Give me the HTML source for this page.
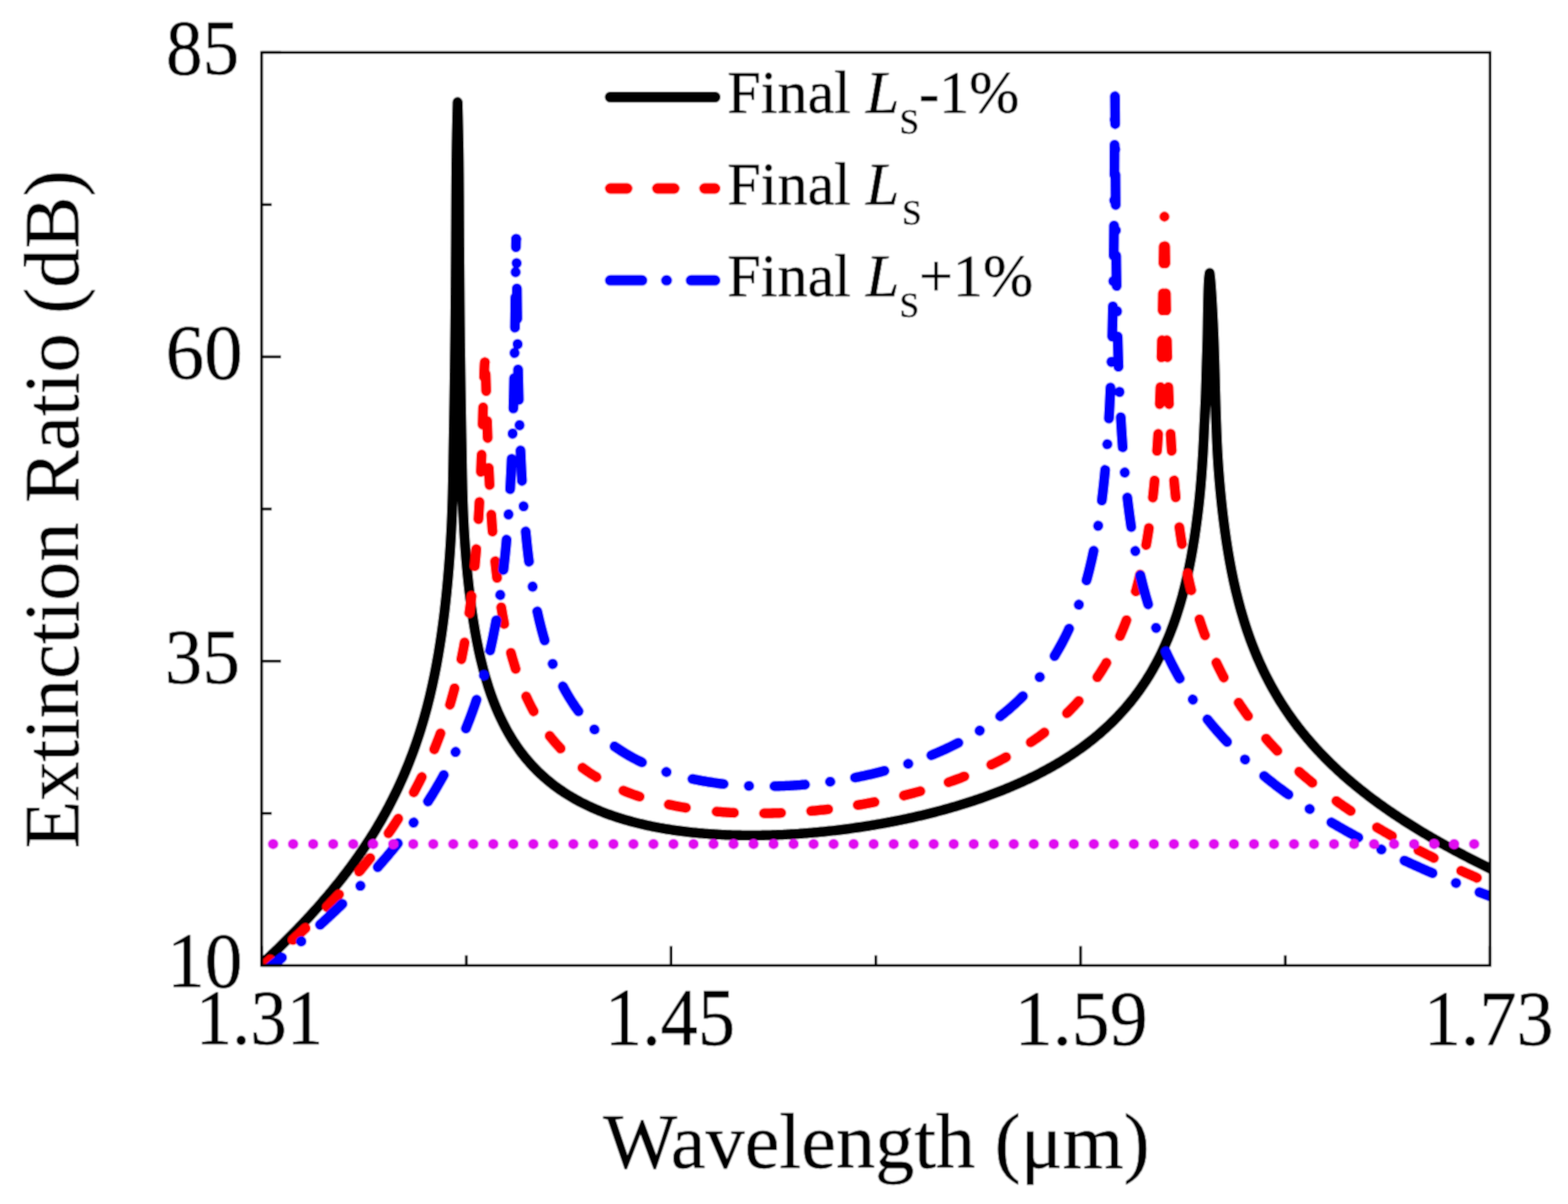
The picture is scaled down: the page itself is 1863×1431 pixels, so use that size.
<!DOCTYPE html>
<html><head><meta charset="utf-8"><style>
html,body{margin:0;padding:0;background:#fff;}
svg{display:block;}
text{font-family:"Liberation Serif","Times New Roman",serif;fill:#000;stroke:#000;stroke-width:0.5px;}
</style></head><body>
<svg width="1863" height="1431" viewBox="0 0 1863 1431">
<defs><filter id="soft" x="0" y="0" width="1863" height="1431" filterUnits="userSpaceOnUse"><feConvolveMatrix order="3" kernelMatrix="1 2 1 2 4 2 1 2 1" divisor="16" edgeMode="duplicate" preserveAlpha="true"/></filter><clipPath id="pa"><rect x="310.80" y="62.40" width="1459.60" height="1085.10"/></clipPath></defs>
<g filter="url(#soft)">
<rect x="0" y="0" width="1863" height="1431" fill="#fff"/>
<g clip-path="url(#pa)" fill="none" stroke-linecap="round" stroke-linejoin="round" stroke-width="12.3">
<path stroke="#000" d="M295.80,1159.76 L297.80,1157.96 L299.80,1156.15 L301.80,1154.33 L303.80,1152.51 L305.80,1150.67 L307.80,1148.84 L309.80,1146.99 L311.80,1145.13 L313.80,1143.27 L315.80,1141.40 L317.80,1139.52 L319.80,1137.63 L321.80,1135.73 L323.80,1133.82 L325.80,1131.90 L327.80,1129.98 L329.80,1128.04 L331.80,1126.09 L333.80,1124.14 L335.80,1122.17 L337.80,1120.19 L339.80,1118.20 L341.80,1116.20 L343.80,1114.19 L345.80,1112.17 L347.80,1110.13 L349.80,1108.09 L351.80,1106.03 L353.80,1103.96 L355.80,1101.87 L357.80,1099.77 L359.80,1097.66 L361.80,1095.54 L363.80,1093.40 L365.80,1091.24 L367.80,1089.07 L369.80,1086.89 L371.80,1084.69 L373.80,1082.47 L375.80,1080.24 L377.80,1077.99 L379.80,1075.72 L381.80,1073.44 L383.80,1071.13 L385.80,1068.81 L387.80,1066.47 L389.80,1064.11 L391.80,1061.73 L393.80,1059.32 L395.80,1056.90 L397.80,1054.45 L399.80,1051.98 L401.80,1049.49 L403.80,1046.98 L405.80,1044.43 L407.80,1041.87 L409.80,1039.27 L411.80,1036.65 L413.80,1034.00 L415.80,1031.33 L417.80,1028.62 L419.80,1025.88 L421.80,1023.11 L423.80,1020.30 L425.80,1017.47 L427.80,1014.59 L429.80,1011.68 L431.80,1008.73 L433.80,1005.75 L435.80,1002.72 L437.80,999.65 L439.80,996.53 L441.80,993.37 L443.80,990.16 L445.80,986.91 L447.80,983.60 L449.80,980.23 L451.80,976.81 L453.80,973.33 L455.80,969.79 L457.80,966.19 L459.80,962.52 L461.80,958.77 L463.80,954.96 L465.80,951.06 L467.80,947.08 L469.80,943.02 L471.80,938.86 L473.80,934.61 L475.80,930.26 L477.80,925.79 L479.80,921.22 L481.80,916.52 L483.80,911.68 L485.80,906.71 L487.80,901.59 L489.80,896.31 L491.80,890.86 L493.80,885.22 L495.80,879.38 L497.80,873.32 L499.80,867.02 L501.80,860.47 L503.70,853.97 L507.26,841.02 L510.50,828.18 L513.46,815.44 L516.15,802.80 L518.60,790.24 L520.83,777.76 L522.87,765.34 L524.72,752.99 L526.41,740.70 L527.95,728.46 L529.35,716.26 L530.63,704.11 L531.02,700.00 L531.37,696.41 L531.71,692.83 L532.03,689.24 L532.34,685.65 L532.66,682.07 L532.96,678.48 L533.25,674.90 L533.53,671.31 L533.81,667.72 L534.07,664.14 L534.33,660.55 L534.59,656.96 L534.83,653.38 L535.06,649.79 L535.29,646.21 L535.51,642.62 L535.71,639.03 L535.92,635.45 L536.11,631.86 L536.29,628.27 L536.47,624.69 L536.64,621.10 L536.79,617.51 L536.94,613.93 L537.08,610.34 L537.21,606.76 L537.33,603.17 L537.45,599.58 L537.56,596.00 L537.66,592.41 L537.76,588.82 L537.85,585.24 L537.93,581.65 L538.01,578.06 L538.09,574.48 L538.16,570.89 L538.23,567.31 L538.29,563.72 L538.36,560.13 L538.42,556.55 L538.48,552.96 L538.54,549.37 L538.59,545.79 L538.65,542.20 L538.71,538.62 L538.77,535.03 L538.83,531.44 L538.89,527.86 L538.95,524.27 L539.02,520.68 L539.08,517.10 L539.15,513.51 L539.21,509.92 L539.27,506.34 L539.33,502.75 L539.39,499.17 L539.45,495.58 L539.51,491.99 L539.57,488.41 L539.62,484.82 L539.68,481.23 L539.74,477.65 L539.79,474.06 L539.85,470.47 L539.90,466.89 L539.95,463.30 L540.01,459.72 L540.06,456.13 L540.11,452.54 L540.16,448.96 L540.21,445.37 L540.26,441.78 L540.31,438.20 L540.36,434.61 L540.41,431.03 L540.46,427.44 L540.51,423.85 L540.55,420.27 L540.60,416.68 L540.64,413.09 L540.68,409.51 L540.73,405.92 L540.77,402.33 L540.81,398.75 L540.85,395.16 L540.88,391.58 L540.92,387.99 L540.96,384.40 L540.99,380.82 L541.03,377.23 L541.06,373.64 L541.09,370.06 L541.12,366.47 L541.15,362.88 L541.18,359.30 L541.21,355.71 L541.24,352.13 L541.26,348.54 L541.29,344.95 L541.32,341.37 L541.34,337.78 L541.37,334.19 L541.39,330.61 L541.42,327.02 L541.44,323.44 L541.47,319.85 L541.49,316.26 L541.52,312.68 L541.54,309.09 L541.56,305.50 L541.59,301.92 L541.61,298.33 L541.63,294.74 L541.66,291.16 L541.68,287.57 L541.70,283.99 L541.71,280.40 L541.73,276.81 L541.75,273.23 L541.77,269.64 L541.79,266.05 L541.80,262.47 L541.82,258.88 L541.84,255.29 L541.85,251.71 L541.87,248.12 L541.89,244.54 L541.91,240.95 L541.92,237.36 L541.94,233.78 L541.96,230.19 L541.99,226.60 L542.01,223.02 L542.03,219.43 L542.06,215.85 L542.08,212.26 L542.11,208.67 L542.14,205.09 L542.17,201.50 L542.19,199.45 L542.21,197.40 L542.23,195.35 L542.25,193.29 L542.27,191.24 L542.30,189.19 L542.32,187.14 L542.35,185.09 L542.38,183.04 L542.41,180.99 L542.44,178.94 L542.47,176.88 L542.51,174.83 L542.54,172.78 L542.58,170.73 L542.62,168.68 L542.66,166.63 L542.70,164.58 L542.74,162.53 L542.78,160.47 L542.82,158.42 L542.87,156.37 L542.91,154.32 L542.96,152.27 L543.00,150.22 L543.05,148.17 L543.10,146.12 L543.14,144.06 L543.19,142.01 L543.24,139.96 L543.29,137.91 L543.34,135.86 L543.39,133.81 L543.44,131.76 L543.49,129.71 L543.54,127.65 L543.60,125.60 L543.65,123.55 L543.70,121.50 L543.75,123.55 L543.80,125.60 L543.86,127.65 L543.91,129.71 L543.96,131.76 L544.01,133.81 L544.06,135.86 L544.11,137.91 L544.16,139.96 L544.21,142.01 L544.26,144.06 L544.30,146.12 L544.35,148.17 L544.40,150.22 L544.44,152.27 L544.49,154.32 L544.53,156.37 L544.58,158.42 L544.62,160.47 L544.66,162.53 L544.70,164.58 L544.74,166.63 L544.78,168.68 L544.82,170.73 L544.86,172.78 L544.89,174.83 L544.93,176.88 L544.96,178.94 L544.99,180.99 L545.02,183.04 L545.05,185.09 L545.08,187.14 L545.10,189.19 L545.13,191.24 L545.15,193.29 L545.17,195.35 L545.19,197.40 L545.21,199.45 L545.23,201.50 L545.26,205.09 L545.29,208.67 L545.32,212.26 L545.34,215.85 L545.37,219.43 L545.39,223.02 L545.41,226.60 L545.44,230.19 L545.46,233.78 L545.48,237.36 L545.49,240.95 L545.51,244.54 L545.53,248.12 L545.55,251.71 L545.56,255.29 L545.58,258.88 L545.60,262.47 L545.61,266.05 L545.63,269.64 L545.65,273.23 L545.67,276.81 L545.69,280.40 L545.70,283.99 L545.72,287.57 L545.74,291.16 L545.77,294.74 L545.79,298.33 L545.81,301.92 L545.84,305.50 L545.86,309.09 L545.88,312.68 L545.91,316.26 L545.93,319.85 L545.96,323.44 L545.98,327.02 L546.01,330.61 L546.03,334.19 L546.06,337.78 L546.08,341.37 L546.11,344.95 L546.14,348.54 L546.16,352.13 L546.19,355.71 L546.22,359.30 L546.25,362.88 L546.28,366.47 L546.31,370.06 L546.34,373.64 L546.37,377.23 L546.41,380.82 L546.44,384.40 L546.48,387.99 L546.52,391.58 L546.55,395.16 L546.59,398.75 L546.63,402.33 L546.67,405.92 L546.72,409.51 L546.76,413.09 L546.80,416.68 L546.85,420.27 L546.89,423.85 L546.94,427.44 L546.99,431.03 L547.04,434.61 L547.09,438.20 L547.14,441.78 L547.19,445.37 L547.24,448.96 L547.29,452.54 L547.34,456.13 L547.39,459.72 L547.45,463.30 L547.50,466.89 L547.55,470.47 L547.61,474.06 L547.66,477.65 L547.72,481.23 L547.78,484.82 L547.83,488.41 L547.89,491.99 L547.95,495.58 L548.01,499.17 L548.07,502.75 L548.13,506.34 L548.19,509.92 L548.25,513.51 L548.32,517.10 L548.38,520.68 L548.45,524.27 L548.51,527.86 L548.57,531.44 L548.63,535.03 L548.69,538.62 L548.75,542.20 L548.81,545.79 L548.87,549.37 L548.93,552.96 L548.99,556.55 L549.06,560.13 L549.12,563.72 L549.19,567.31 L549.27,570.89 L549.34,574.48 L549.42,578.06 L549.51,581.65 L549.60,585.24 L549.70,588.82 L549.80,592.41 L549.91,596.00 L550.03,599.58 L550.16,603.17 L550.29,606.76 L550.44,610.34 L550.59,613.93 L550.75,617.51 L550.93,621.10 L551.11,624.69 L551.30,628.27 L551.51,631.86 L551.72,635.45 L551.94,639.03 L552.18,642.62 L552.43,646.21 L552.68,649.79 L552.95,653.38 L553.23,656.96 L553.51,660.55 L553.81,664.14 L554.11,667.72 L554.42,671.31 L554.75,674.90 L555.09,678.48 L555.43,682.07 L555.79,685.65 L556.16,689.24 L556.54,692.83 L556.92,696.41 L557.33,700.00 L558.05,706.38 L559.45,717.61 L560.99,728.79 L562.68,739.92 L564.53,750.99 L566.57,762.00 L568.80,772.95 L571.25,783.82 L573.94,794.61 L576.90,805.31 L580.14,815.91 L583.70,826.40 L583.80,826.68 L585.80,832.12 L587.80,837.27 L589.80,842.16 L591.80,846.82 L593.80,851.25 L595.80,855.49 L597.80,859.55 L599.80,863.43 L601.80,867.15 L603.80,870.72 L605.80,874.16 L607.80,877.46 L609.80,880.65 L611.80,883.71 L613.80,886.67 L615.80,889.53 L617.80,892.29 L619.80,894.96 L621.80,897.54 L623.80,900.05 L625.80,902.47 L627.80,904.82 L629.80,907.09 L631.80,909.30 L633.80,911.45 L635.80,913.53 L637.80,915.56 L639.80,917.52 L641.80,919.44 L643.80,921.30 L645.80,923.11 L647.80,924.87 L649.80,926.59 L651.80,928.26 L653.80,929.89 L655.80,931.48 L657.80,933.03 L659.80,934.54 L661.80,936.01 L663.80,937.44 L665.80,938.85 L667.80,940.21 L669.80,941.55 L671.80,942.85 L673.80,944.13 L675.80,945.37 L677.80,946.58 L679.80,947.77 L681.80,948.93 L683.80,950.06 L685.80,951.17 L687.80,952.25 L689.80,953.31 L691.80,954.35 L693.80,955.36 L695.80,956.35 L697.80,957.32 L699.80,958.26 L701.80,959.19 L703.80,960.10 L705.80,960.98 L707.80,961.85 L709.80,962.70 L711.80,963.53 L713.80,964.34 L715.80,965.13 L717.80,965.91 L719.80,966.67 L721.80,967.42 L723.80,968.15 L725.80,968.86 L727.80,969.56 L729.80,970.24 L731.80,970.91 L733.80,971.56 L735.80,972.20 L737.80,972.82 L739.80,973.44 L741.80,974.03 L743.80,974.62 L745.80,975.19 L747.80,975.75 L749.80,976.30 L751.80,976.84 L753.80,977.36 L755.80,977.87 L757.80,978.37 L759.80,978.86 L761.80,979.34 L763.80,979.81 L765.80,980.27 L767.80,980.71 L769.80,981.15 L771.80,981.58 L773.80,981.99 L775.80,982.40 L777.80,982.80 L779.80,983.18 L781.80,983.56 L783.80,983.93 L785.80,984.29 L787.80,984.64 L789.80,984.98 L791.80,985.31 L793.80,985.64 L795.80,985.95 L797.80,986.26 L799.80,986.56 L801.80,986.85 L803.80,987.13 L805.80,987.41 L807.80,987.67 L809.80,987.93 L811.80,988.18 L813.80,988.43 L815.80,988.66 L817.80,988.89 L819.80,989.12 L821.80,989.33 L823.80,989.54 L825.80,989.74 L827.80,989.93 L829.80,990.12 L831.80,990.30 L833.80,990.47 L835.80,990.64 L837.80,990.80 L839.80,990.96 L841.80,991.10 L843.80,991.24 L845.80,991.38 L847.80,991.51 L849.80,991.63 L851.80,991.75 L853.80,991.86 L855.80,991.96 L857.80,992.06 L859.80,992.15 L861.80,992.24 L863.80,992.32 L865.80,992.40 L867.80,992.46 L869.80,992.53 L871.80,992.59 L873.80,992.64 L875.80,992.69 L877.80,992.73 L879.80,992.77 L881.80,992.80 L883.80,992.82 L885.80,992.84 L887.80,992.86 L889.80,992.87 L891.80,992.87 L893.80,992.87 L895.80,992.87 L897.80,992.86 L899.80,992.84 L901.80,992.82 L903.80,992.79 L905.80,992.76 L907.80,992.73 L909.80,992.69 L911.80,992.64 L913.80,992.59 L915.80,992.54 L917.80,992.48 L919.80,992.41 L921.80,992.34 L923.80,992.27 L925.80,992.19 L927.80,992.11 L929.80,992.02 L931.80,991.93 L933.80,991.83 L935.80,991.73 L937.80,991.62 L939.80,991.51 L941.80,991.39 L943.80,991.27 L945.80,991.15 L947.80,991.02 L949.80,990.88 L951.80,990.74 L953.80,990.60 L955.80,990.45 L957.80,990.30 L959.80,990.14 L961.80,989.98 L963.80,989.82 L965.80,989.65 L967.80,989.47 L969.80,989.30 L971.80,989.11 L973.80,988.92 L975.80,988.73 L977.80,988.54 L979.80,988.33 L981.80,988.13 L983.80,987.92 L985.80,987.71 L987.80,987.49 L989.80,987.26 L991.80,987.04 L993.80,986.80 L995.80,986.57 L997.80,986.33 L999.80,986.08 L1001.80,985.83 L1003.80,985.58 L1005.80,985.32 L1007.80,985.06 L1009.80,984.79 L1011.80,984.52 L1013.80,984.24 L1015.80,983.96 L1017.80,983.68 L1019.80,983.39 L1021.80,983.10 L1023.80,982.80 L1025.80,982.49 L1027.80,982.19 L1029.80,981.87 L1031.80,981.56 L1033.80,981.24 L1035.80,980.91 L1037.80,980.58 L1039.80,980.25 L1041.80,979.91 L1043.80,979.56 L1045.80,979.21 L1047.80,978.86 L1049.80,978.50 L1051.80,978.14 L1053.80,977.77 L1055.80,977.40 L1057.80,977.02 L1059.80,976.64 L1061.80,976.25 L1063.80,975.86 L1065.80,975.47 L1067.80,975.06 L1069.80,974.66 L1071.80,974.25 L1073.80,973.83 L1075.80,973.41 L1077.80,972.98 L1079.80,972.55 L1081.80,972.12 L1083.80,971.68 L1085.80,971.23 L1087.80,970.78 L1089.80,970.32 L1091.80,969.86 L1093.80,969.39 L1095.80,968.92 L1097.80,968.44 L1099.80,967.96 L1101.80,967.47 L1103.80,966.97 L1105.80,966.47 L1107.80,965.97 L1109.80,965.46 L1111.80,964.94 L1113.80,964.42 L1115.80,963.89 L1117.80,963.36 L1119.80,962.82 L1121.80,962.27 L1123.80,961.72 L1125.80,961.16 L1127.80,960.60 L1129.80,960.03 L1131.80,959.45 L1133.80,958.87 L1135.80,958.28 L1137.80,957.68 L1139.80,957.08 L1141.80,956.47 L1143.80,955.86 L1145.80,955.24 L1147.80,954.61 L1149.80,953.98 L1151.80,953.33 L1153.80,952.68 L1155.80,952.03 L1157.80,951.37 L1159.80,950.70 L1161.80,950.02 L1163.80,949.34 L1165.80,948.64 L1167.80,947.94 L1169.80,947.24 L1171.80,946.52 L1173.80,945.80 L1175.80,945.07 L1177.80,944.33 L1179.80,943.58 L1181.80,942.83 L1183.80,942.07 L1185.80,941.30 L1187.80,940.52 L1189.80,939.73 L1191.80,938.93 L1193.80,938.12 L1195.80,937.31 L1197.80,936.48 L1199.80,935.65 L1201.80,934.80 L1203.80,933.95 L1205.80,933.09 L1207.80,932.22 L1209.80,931.33 L1211.80,930.44 L1213.80,929.54 L1215.80,928.62 L1217.80,927.70 L1219.80,926.76 L1221.80,925.82 L1223.80,924.86 L1225.80,923.89 L1227.80,922.91 L1229.80,921.91 L1231.80,920.91 L1233.80,919.89 L1235.80,918.86 L1237.80,917.82 L1239.80,916.76 L1241.80,915.69 L1243.80,914.61 L1245.80,913.51 L1247.80,912.40 L1249.80,911.28 L1251.80,910.14 L1253.80,908.98 L1255.80,907.82 L1257.80,906.63 L1259.80,905.43 L1261.80,904.21 L1263.80,902.98 L1265.80,901.73 L1267.80,900.46 L1269.80,899.17 L1271.80,897.87 L1273.80,896.55 L1275.80,895.20 L1277.80,893.84 L1279.80,892.46 L1281.80,891.06 L1283.80,889.64 L1285.80,888.19 L1287.80,886.73 L1289.80,885.24 L1291.80,883.73 L1293.80,882.19 L1295.80,880.63 L1297.80,879.05 L1299.80,877.44 L1301.80,875.80 L1303.80,874.13 L1305.80,872.44 L1307.80,870.72 L1309.80,868.97 L1311.80,867.18 L1313.80,865.37 L1315.80,863.52 L1317.80,861.64 L1319.80,859.72 L1321.80,857.77 L1323.80,855.78 L1325.80,853.75 L1327.80,851.68 L1329.80,849.57 L1331.80,847.42 L1333.80,845.22 L1335.80,842.98 L1337.80,840.68 L1339.80,838.34 L1341.80,835.95 L1343.80,833.50 L1345.80,830.99 L1347.80,828.42 L1349.80,825.80 L1351.80,823.10 L1353.80,820.35 L1355.80,817.51 L1357.80,814.61 L1359.80,811.63 L1361.80,808.56 L1363.80,805.41 L1365.80,802.17 L1367.80,798.83 L1369.80,795.39 L1371.80,791.84 L1373.80,788.18 L1375.80,784.39 L1377.80,780.48 L1379.80,776.43 L1381.80,772.23 L1383.80,767.87 L1385.80,763.34 L1387.80,758.63 L1389.80,753.72 L1391.80,748.59 L1393.80,743.23 L1395.80,737.62 L1397.80,731.72 L1398.10,730.81 L1401.66,719.45 L1404.90,708.06 L1407.86,696.64 L1410.55,685.21 L1413.00,673.76 L1415.23,662.30 L1417.27,650.84 L1419.12,639.37 L1420.81,627.89 L1422.35,616.42 L1423.75,604.96 L1424.30,600.00 L1424.46,598.59 L1424.62,597.19 L1424.77,595.78 L1424.92,594.38 L1425.07,592.97 L1425.21,591.57 L1425.35,590.16 L1425.49,588.75 L1425.62,587.35 L1425.76,585.94 L1425.90,584.54 L1426.03,583.13 L1426.16,581.73 L1426.28,580.32 L1426.41,578.91 L1426.53,577.51 L1426.65,576.10 L1426.77,574.70 L1426.89,573.29 L1427.00,571.88 L1427.12,570.48 L1427.23,569.07 L1427.34,567.67 L1427.44,566.26 L1427.55,564.86 L1427.66,563.45 L1427.76,562.04 L1427.87,560.64 L1427.97,559.23 L1428.07,557.83 L1428.16,556.42 L1428.26,555.02 L1428.36,553.61 L1428.45,552.20 L1428.55,550.80 L1428.64,549.39 L1428.73,547.99 L1428.82,546.58 L1428.90,545.18 L1428.99,543.77 L1429.08,542.36 L1429.16,540.96 L1429.24,539.55 L1429.32,538.15 L1429.40,536.74 L1429.48,535.34 L1429.56,533.93 L1429.63,532.52 L1429.70,531.12 L1429.78,529.71 L1429.85,528.31 L1429.92,526.90 L1429.99,525.49 L1430.05,524.09 L1430.12,522.68 L1430.18,521.28 L1430.25,519.87 L1430.31,518.47 L1430.37,517.06 L1430.43,515.65 L1430.50,514.25 L1430.56,512.84 L1430.62,511.44 L1430.68,510.03 L1430.75,508.63 L1430.81,507.22 L1430.87,505.81 L1430.94,504.41 L1431.00,503.00 L1431.07,501.60 L1431.14,500.19 L1431.21,498.79 L1431.28,497.38 L1431.35,495.97 L1431.42,494.57 L1431.49,493.16 L1431.55,491.76 L1431.62,490.35 L1431.69,488.95 L1431.76,487.54 L1431.83,486.13 L1431.89,484.73 L1431.96,483.32 L1432.02,481.92 L1432.09,480.51 L1432.15,479.11 L1432.21,477.70 L1432.27,476.29 L1432.33,474.89 L1432.39,473.48 L1432.45,472.08 L1432.50,470.67 L1432.55,469.26 L1432.61,467.86 L1432.65,466.45 L1432.70,465.05 L1432.75,463.64 L1432.79,462.24 L1432.84,460.83 L1432.88,459.42 L1432.92,458.02 L1432.97,456.61 L1433.01,455.21 L1433.05,453.80 L1433.09,452.40 L1433.13,450.99 L1433.16,449.58 L1433.20,448.18 L1433.24,446.77 L1433.28,445.37 L1433.32,443.96 L1433.36,442.56 L1433.40,441.15 L1433.43,439.74 L1433.47,438.34 L1433.51,436.93 L1433.55,435.53 L1433.60,434.12 L1433.64,432.72 L1433.68,431.31 L1433.73,429.90 L1433.77,428.50 L1433.82,427.09 L1433.86,425.69 L1433.91,424.28 L1433.95,422.87 L1434.00,421.47 L1434.05,420.06 L1434.09,418.66 L1434.14,417.25 L1434.18,415.85 L1434.23,414.44 L1434.27,413.03 L1434.32,411.63 L1434.36,410.22 L1434.40,408.82 L1434.44,407.41 L1434.48,406.01 L1434.51,404.60 L1434.56,402.55 L1434.61,400.50 L1434.65,398.45 L1434.69,396.39 L1434.73,394.34 L1434.77,392.29 L1434.80,390.24 L1434.84,388.19 L1434.87,386.14 L1434.90,384.09 L1434.93,382.04 L1434.96,379.98 L1435.00,377.93 L1435.03,375.88 L1435.06,373.83 L1435.10,371.78 L1435.14,369.73 L1435.19,367.68 L1435.23,365.63 L1435.27,363.57 L1435.32,361.52 L1435.36,359.47 L1435.40,357.42 L1435.45,355.37 L1435.49,353.32 L1435.54,351.27 L1435.60,349.22 L1435.66,347.16 L1435.72,345.11 L1435.79,343.06 L1435.86,341.01 L1435.94,338.96 L1436.03,336.91 L1436.13,334.86 L1436.24,332.81 L1436.42,330.75 L1436.66,328.70 L1436.93,326.65 L1437.20,324.60 L1437.45,326.65 L1437.70,328.70 L1437.93,330.75 L1438.14,332.81 L1438.32,334.86 L1438.49,336.91 L1438.65,338.96 L1438.81,341.01 L1438.95,343.06 L1439.10,345.11 L1439.24,347.16 L1439.37,349.22 L1439.50,351.27 L1439.62,353.32 L1439.75,355.37 L1439.87,357.42 L1439.98,359.47 L1440.10,361.52 L1440.21,363.57 L1440.32,365.63 L1440.44,367.68 L1440.55,369.73 L1440.66,371.78 L1440.76,373.83 L1440.87,375.88 L1440.97,377.93 L1441.07,379.98 L1441.17,382.04 L1441.27,384.09 L1441.37,386.14 L1441.46,388.19 L1441.55,390.24 L1441.64,392.29 L1441.73,394.34 L1441.82,396.39 L1441.90,398.45 L1441.98,400.50 L1442.06,402.55 L1442.14,404.60 L1442.19,406.01 L1442.24,407.41 L1442.29,408.82 L1442.34,410.22 L1442.39,411.63 L1442.44,413.03 L1442.49,414.44 L1442.53,415.85 L1442.58,417.25 L1442.63,418.66 L1442.67,420.06 L1442.72,421.47 L1442.76,422.87 L1442.81,424.28 L1442.85,425.69 L1442.89,427.09 L1442.94,428.50 L1442.98,429.90 L1443.02,431.31 L1443.06,432.72 L1443.10,434.12 L1443.14,435.53 L1443.18,436.93 L1443.22,438.34 L1443.26,439.74 L1443.30,441.15 L1443.34,442.56 L1443.38,443.96 L1443.41,445.37 L1443.45,446.77 L1443.48,448.18 L1443.52,449.58 L1443.56,450.99 L1443.59,452.40 L1443.63,453.80 L1443.66,455.21 L1443.70,456.61 L1443.73,458.02 L1443.77,459.42 L1443.81,460.83 L1443.84,462.24 L1443.88,463.64 L1443.92,465.05 L1443.96,466.45 L1444.00,467.86 L1444.04,469.26 L1444.08,470.67 L1444.11,472.08 L1444.15,473.48 L1444.19,474.89 L1444.23,476.29 L1444.27,477.70 L1444.31,479.11 L1444.35,480.51 L1444.39,481.92 L1444.43,483.32 L1444.48,484.73 L1444.52,486.13 L1444.56,487.54 L1444.60,488.95 L1444.65,490.35 L1444.69,491.76 L1444.73,493.16 L1444.78,494.57 L1444.83,495.97 L1444.87,497.38 L1444.92,498.79 L1444.97,500.19 L1445.02,501.60 L1445.07,503.00 L1445.12,504.41 L1445.17,505.81 L1445.22,507.22 L1445.27,508.63 L1445.32,510.03 L1445.37,511.44 L1445.42,512.84 L1445.48,514.25 L1445.53,515.65 L1445.58,517.06 L1445.64,518.47 L1445.70,519.87 L1445.75,521.28 L1445.81,522.68 L1445.87,524.09 L1445.93,525.49 L1445.99,526.90 L1446.06,528.31 L1446.13,529.71 L1446.19,531.12 L1446.26,532.52 L1446.33,533.93 L1446.40,535.34 L1446.48,536.74 L1446.55,538.15 L1446.63,539.55 L1446.71,540.96 L1446.79,542.36 L1446.88,543.77 L1446.96,545.18 L1447.05,546.58 L1447.14,547.99 L1447.23,549.39 L1447.32,550.80 L1447.42,552.20 L1447.51,553.61 L1447.61,555.02 L1447.71,556.42 L1447.81,557.83 L1447.91,559.23 L1448.01,560.64 L1448.12,562.04 L1448.23,563.45 L1448.34,564.86 L1448.46,566.26 L1448.57,567.67 L1448.68,569.07 L1448.80,570.48 L1448.91,571.88 L1449.03,573.29 L1449.16,574.70 L1449.28,576.10 L1449.41,577.51 L1449.53,578.91 L1449.66,580.32 L1449.79,581.73 L1449.91,583.13 L1450.05,584.54 L1450.18,585.94 L1450.32,587.35 L1450.46,588.75 L1450.60,590.16 L1450.74,591.57 L1450.88,592.97 L1451.02,594.38 L1451.17,595.78 L1451.32,597.19 L1451.47,598.59 L1451.62,600.00 L1452.45,607.55 L1453.85,619.26 L1455.39,631.01 L1457.08,642.79 L1458.93,654.59 L1460.97,666.43 L1463.20,678.29 L1465.65,690.18 L1468.34,702.10 L1471.30,714.04 L1474.54,726.02 L1478.10,738.03 L1479.80,743.41 L1481.80,749.47 L1483.80,755.26 L1485.80,760.82 L1487.80,766.15 L1489.80,771.29 L1491.80,776.23 L1493.80,781.00 L1495.80,785.61 L1497.80,790.07 L1499.80,794.39 L1501.80,798.58 L1503.80,802.64 L1505.80,806.58 L1507.80,810.42 L1509.80,814.15 L1511.80,817.79 L1513.80,821.33 L1515.80,824.79 L1517.80,828.16 L1519.80,831.46 L1521.80,834.68 L1523.80,837.82 L1525.80,840.90 L1527.80,843.92 L1529.80,846.87 L1531.80,849.76 L1533.80,852.60 L1535.80,855.38 L1537.80,858.10 L1539.80,860.78 L1541.80,863.41 L1543.80,865.99 L1545.80,868.53 L1547.80,871.03 L1549.80,873.48 L1551.80,875.89 L1553.80,878.26 L1555.80,880.60 L1557.80,882.90 L1559.80,885.17 L1561.80,887.40 L1563.80,889.60 L1565.80,891.77 L1567.80,893.90 L1569.80,896.01 L1571.80,898.09 L1573.80,900.14 L1575.80,902.16 L1577.80,904.16 L1579.80,906.13 L1581.80,908.08 L1583.80,910.00 L1585.80,911.90 L1587.80,913.77 L1589.80,915.63 L1591.80,917.46 L1593.80,919.27 L1595.80,921.06 L1597.80,922.83 L1599.80,924.58 L1601.80,926.32 L1603.80,928.03 L1605.80,929.73 L1607.80,931.40 L1609.80,933.07 L1611.80,934.71 L1613.80,936.34 L1615.80,937.95 L1617.80,939.54 L1619.80,941.13 L1621.80,942.69 L1623.80,944.24 L1625.80,945.78 L1627.80,947.30 L1629.80,948.81 L1631.80,950.31 L1633.80,951.79 L1635.80,953.26 L1637.80,954.72 L1639.80,956.16 L1641.80,957.59 L1643.80,959.01 L1645.80,960.42 L1647.80,961.82 L1649.80,963.21 L1651.80,964.59 L1653.80,965.95 L1655.80,967.31 L1657.80,968.65 L1659.80,969.98 L1661.80,971.31 L1663.80,972.62 L1665.80,973.93 L1667.80,975.23 L1669.80,976.51 L1671.80,977.79 L1673.80,979.06 L1675.80,980.32 L1677.80,981.57 L1679.80,982.81 L1681.80,984.05 L1683.80,985.28 L1685.80,986.49 L1687.80,987.71 L1689.80,988.91 L1691.80,990.10 L1693.80,991.29 L1695.80,992.47 L1697.80,993.65 L1699.80,994.81 L1701.80,995.97 L1703.80,997.13 L1705.80,998.27 L1707.80,999.41 L1709.80,1000.55 L1711.80,1001.67 L1713.80,1002.79 L1715.80,1003.91 L1717.80,1005.02 L1719.80,1006.12 L1721.80,1007.21 L1723.80,1008.30 L1725.80,1009.39 L1727.80,1010.47 L1729.80,1011.54 L1731.80,1012.61 L1733.80,1013.67 L1735.80,1014.73 L1737.80,1015.78 L1739.80,1016.83 L1741.80,1017.87 L1743.80,1018.91 L1745.80,1019.94 L1747.80,1020.96 L1749.80,1021.99 L1751.80,1023.00 L1753.80,1024.02 L1755.80,1025.03 L1757.80,1026.03 L1759.80,1027.03 L1761.80,1028.02 L1763.80,1029.01 L1765.80,1030.00 L1767.80,1030.98 L1769.80,1031.96 L1771.80,1032.94 L1773.80,1033.91 L1775.80,1034.87 L1777.80,1035.83 L1779.80,1036.79 L1781.80,1037.75 L1783.80,1038.70"/>
<path stroke="#ff0000" stroke-dasharray="0.00 12.83 20.30 35.70 20.39 36.03 20.55 36.23 20.73 36.67 20.78 36.39 20.58 36.00 20.42 35.83 20.29 35.53 20.20 35.53 20.29 35.82 20.33 35.67 20.35 35.93 20.41 35.87 20.44 36.04 17.57 500.00" d="M295.80,1161.95 L297.80,1160.32 L299.80,1158.68 L301.80,1157.04 L303.80,1155.39 L305.80,1153.73 L307.80,1152.07 L309.80,1150.40 L311.80,1148.73 L313.80,1147.05 L315.80,1145.36 L317.80,1143.66 L319.80,1141.96 L321.80,1140.25 L323.80,1138.53 L325.80,1136.81 L327.80,1135.08 L329.80,1133.34 L331.80,1131.59 L333.80,1129.84 L335.80,1128.07 L337.80,1126.30 L339.80,1124.52 L341.80,1122.73 L343.80,1120.94 L345.80,1119.13 L347.80,1117.31 L349.80,1115.49 L351.80,1113.66 L353.80,1111.81 L355.80,1109.96 L357.80,1108.10 L359.80,1106.23 L361.80,1104.34 L363.80,1102.45 L365.80,1100.55 L367.80,1098.63 L369.80,1096.70 L371.80,1094.77 L373.80,1092.82 L375.80,1090.86 L377.80,1088.88 L379.80,1086.90 L381.80,1084.90 L383.80,1082.89 L385.80,1080.86 L387.80,1078.83 L389.80,1076.78 L391.80,1074.71 L393.80,1072.63 L395.80,1070.54 L397.80,1068.43 L399.80,1066.30 L401.80,1064.16 L403.80,1062.00 L405.80,1059.83 L407.80,1057.64 L409.80,1055.43 L411.80,1053.20 L413.80,1050.96 L415.80,1048.70 L417.80,1046.42 L419.80,1044.11 L421.80,1041.79 L423.80,1039.45 L425.80,1037.09 L427.80,1034.70 L429.80,1032.29 L431.80,1029.86 L433.80,1027.41 L435.80,1024.93 L437.80,1022.42 L439.80,1019.89 L441.80,1017.33 L443.80,1014.75 L445.80,1012.14 L447.80,1009.49 L449.80,1006.82 L451.80,1004.12 L453.80,1001.38 L455.80,998.61 L457.80,995.81 L459.80,992.97 L461.80,990.09 L463.80,987.18 L465.80,984.22 L467.80,981.23 L469.80,978.19 L471.80,975.11 L473.80,971.98 L475.80,968.81 L477.80,965.58 L479.80,962.31 L481.80,958.98 L483.80,955.59 L485.80,952.14 L487.80,948.64 L489.80,945.07 L491.80,941.43 L493.80,937.72 L495.80,933.94 L497.80,930.08 L499.80,926.14 L501.80,922.11 L503.80,917.99 L505.80,913.78 L507.80,909.46 L509.80,905.04 L511.80,900.50 L513.80,895.85 L515.80,891.06 L517.80,886.14 L519.80,881.06 L521.80,875.83 L523.80,870.44 L525.80,864.85 L527.80,859.07 L529.80,853.08 L531.80,846.85 L533.80,840.37 L535.80,833.60 L536.10,832.56 L539.66,819.66 L542.90,806.86 L545.86,794.18 L548.55,781.59 L551.00,769.09 L553.23,756.68 L555.27,744.36 L557.12,732.11 L558.81,719.94 L560.35,707.84 L561.75,695.82 L563.03,683.88 L564.19,672.01 L565.25,660.24 L566.22,648.55 L567.09,636.96 L567.90,625.48 L568.63,614.12 L569.29,602.90 L569.90,591.84 L570.45,580.95 L570.95,570.27 L571.41,559.83 L571.83,549.64 L572.21,539.75 L572.55,530.19 L572.87,521.01 L573.16,512.24 L573.42,503.91 L573.66,496.06 L573.87,488.71 L574.07,481.90 L574.25,475.63 L574.42,469.91 L574.57,464.74 L574.70,460.11 L574.83,455.98 L574.94,452.34 L575.04,449.15 L575.14,446.37 L575.22,443.97 L575.30,441.91 L575.37,440.14 L575.44,438.63 L575.50,437.35 L575.55,436.26 L575.60,435.35 L575.64,434.58 L575.68,433.93 L575.72,433.39 L575.75,432.93 L575.79,432.55 L575.81,432.23 L575.84,431.96 L575.86,431.74 L575.88,431.56 L575.90,431.40 L575.92,431.27 L575.94,431.16 L575.95,431.07 L575.96,431.00 L575.98,430.93 L575.99,430.88 L576.00,430.83 L576.01,430.80 L576.01,430.77 L576.02,430.74 L576.03,430.72 L576.04,430.70 L576.04,430.69 L576.05,430.67 L576.05,430.66 L576.06,430.65 L576.06,430.65 L576.06,430.64 L576.07,430.63 L576.07,430.63 L576.07,430.62 L576.07,430.62 L576.08,430.62 L576.08,430.62 L576.08,430.61 L576.08,430.61 L576.08,430.61 L576.09,430.61 L576.09,430.61 L576.09,430.61 L576.09,430.61 L576.09,430.61 L576.10,430.60"/>
<path stroke="#ff0000" stroke-dasharray="0.00 13.99 20.26 35.57 20.26 35.67 20.20 35.40 20.12 35.36 20.08 35.28 20.02 35.15 19.96 35.06 19.89 34.90 19.77 34.64 20.02 35.87 20.46 36.06 20.68 36.78 20.63 35.75 20.33 35.75 20.27 35.56 20.26 35.70 20.16 35.24 19.96 34.92 19.70 34.37 19.84 35.40 20.25 35.77 20.31 35.65 20.37 36.01 20.45 35.93 20.55 36.45 20.41 35.37 20.15 35.49 20.18 35.47 20.20 35.56 20.24 35.64 20.28 535.28" d="M576.10,430.60 L576.11,430.60 L576.11,430.60 L576.11,430.60 L576.11,430.60 L576.11,430.60 L576.12,430.60 L576.12,430.60 L576.12,430.60 L576.12,430.60 L576.12,430.60 L576.13,430.60 L576.13,430.61 L576.13,430.61 L576.13,430.61 L576.14,430.61 L576.14,430.62 L576.14,430.62 L576.15,430.63 L576.15,430.64 L576.16,430.65 L576.16,430.66 L576.17,430.67 L576.18,430.69 L576.19,430.71 L576.19,430.73 L576.20,430.76 L576.21,430.80 L576.22,430.85 L576.24,430.90 L576.25,430.97 L576.26,431.05 L576.28,431.15 L576.30,431.26 L576.32,431.41 L576.34,431.58 L576.36,431.79 L576.39,432.03 L576.41,432.33 L576.45,432.70 L576.48,433.13 L576.52,433.65 L576.56,434.27 L576.60,435.01 L576.65,435.89 L576.70,436.94 L576.76,438.17 L576.83,439.64 L576.90,441.36 L576.98,443.37 L577.06,445.71 L577.16,448.42 L577.26,451.54 L577.37,455.11 L577.50,459.15 L577.63,463.69 L577.78,468.76 L577.95,474.36 L578.13,480.51 L578.33,487.18 L578.54,494.38 L578.78,502.07 L579.04,510.22 L579.33,518.79 L579.65,527.76 L579.99,537.08 L580.37,546.71 L580.79,556.61 L581.25,566.74 L581.75,577.08 L582.30,587.58 L582.91,598.23 L583.57,608.99 L584.30,619.85 L585.11,630.78 L585.98,641.76 L586.95,652.79 L588.01,663.84 L589.17,674.90 L590.45,685.97 L591.85,697.03 L593.39,708.07 L595.08,719.08 L596.93,730.05 L598.97,740.98 L601.20,751.86 L603.65,762.67 L606.34,773.41 L609.30,784.07 L612.54,794.63 L616.10,805.09 L617.80,809.73 L619.80,814.92 L621.80,819.84 L623.80,824.53 L625.80,829.00 L627.80,833.26 L629.80,837.34 L631.80,841.24 L633.80,844.98 L635.80,848.57 L637.80,852.02 L639.80,855.34 L641.80,858.54 L643.80,861.61 L645.80,864.58 L647.80,867.45 L649.80,870.21 L651.80,872.89 L653.80,875.47 L655.80,877.98 L657.80,880.40 L659.80,882.75 L661.80,885.03 L663.80,887.24 L665.80,889.38 L667.80,891.46 L669.80,893.48 L671.80,895.45 L673.80,897.36 L675.80,899.21 L677.80,901.02 L679.80,902.77 L681.80,904.48 L683.80,906.15 L685.80,907.77 L687.80,909.35 L689.80,910.88 L691.80,912.38 L693.80,913.84 L695.80,915.27 L697.80,916.66 L699.80,918.01 L701.80,919.34 L703.80,920.63 L705.80,921.88 L707.80,923.11 L709.80,924.31 L711.80,925.48 L713.80,926.63 L715.80,927.74 L717.80,928.83 L719.80,929.90 L721.80,930.94 L723.80,931.96 L725.80,932.95 L727.80,933.92 L729.80,934.87 L731.80,935.79 L733.80,936.70 L735.80,937.58 L737.80,938.45 L739.80,939.29 L741.80,940.12 L743.80,940.93 L745.80,941.71 L747.80,942.49 L749.80,943.24 L751.80,943.97 L753.80,944.69 L755.80,945.40 L757.80,946.08 L759.80,946.75 L761.80,947.41 L763.80,948.05 L765.80,948.68 L767.80,949.29 L769.80,949.88 L771.80,950.47 L773.80,951.04 L775.80,951.59 L777.80,952.14 L779.80,952.66 L781.80,953.18 L783.80,953.69 L785.80,954.18 L787.80,954.66 L789.80,955.13 L791.80,955.58 L793.80,956.03 L795.80,956.46 L797.80,956.88 L799.80,957.30 L801.80,957.70 L803.80,958.09 L805.80,958.47 L807.80,958.84 L809.80,959.20 L811.80,959.55 L813.80,959.89 L815.80,960.22 L817.80,960.54 L819.80,960.85 L821.80,961.15 L823.80,961.44 L825.80,961.72 L827.80,962.00 L829.80,962.26 L831.80,962.52 L833.80,962.77 L835.80,963.01 L837.80,963.24 L839.80,963.46 L841.80,963.68 L843.80,963.89 L845.80,964.09 L847.80,964.28 L849.80,964.46 L851.80,964.63 L853.80,964.80 L855.80,964.96 L857.80,965.12 L859.80,965.26 L861.80,965.40 L863.80,965.53 L865.80,965.65 L867.80,965.77 L869.80,965.88 L871.80,965.98 L873.80,966.07 L875.80,966.16 L877.80,966.24 L879.80,966.32 L881.80,966.39 L883.80,966.45 L885.80,966.50 L887.80,966.55 L889.80,966.59 L891.80,966.63 L893.80,966.66 L895.80,966.68 L897.80,966.70 L899.80,966.71 L901.80,966.71 L903.80,966.71 L905.80,966.70 L907.80,966.68 L909.80,966.66 L911.80,966.64 L913.80,966.60 L915.80,966.56 L917.80,966.52 L919.80,966.47 L921.80,966.41 L923.80,966.35 L925.80,966.28 L927.80,966.21 L929.80,966.13 L931.80,966.04 L933.80,965.95 L935.80,965.85 L937.80,965.75 L939.80,965.64 L941.80,965.53 L943.80,965.41 L945.80,965.28 L947.80,965.15 L949.80,965.01 L951.80,964.87 L953.80,964.72 L955.80,964.57 L957.80,964.41 L959.80,964.25 L961.80,964.08 L963.80,963.90 L965.80,963.72 L967.80,963.53 L969.80,963.34 L971.80,963.14 L973.80,962.94 L975.80,962.73 L977.80,962.52 L979.80,962.30 L981.80,962.07 L983.80,961.84 L985.80,961.61 L987.80,961.36 L989.80,961.12 L991.80,960.86 L993.80,960.61 L995.80,960.34 L997.80,960.07 L999.80,959.80 L1001.80,959.52 L1003.80,959.23 L1005.80,958.94 L1007.80,958.65 L1009.80,958.34 L1011.80,958.03 L1013.80,957.72 L1015.80,957.40 L1017.80,957.08 L1019.80,956.75 L1021.80,956.41 L1023.80,956.07 L1025.80,955.72 L1027.80,955.37 L1029.80,955.01 L1031.80,954.64 L1033.80,954.27 L1035.80,953.89 L1037.80,953.51 L1039.80,953.12 L1041.80,952.73 L1043.80,952.33 L1045.80,951.92 L1047.80,951.51 L1049.80,951.09 L1051.80,950.67 L1053.80,950.23 L1055.80,949.80 L1057.80,949.35 L1059.80,948.91 L1061.80,948.45 L1063.80,947.99 L1065.80,947.52 L1067.80,947.04 L1069.80,946.56 L1071.80,946.07 L1073.80,945.58 L1075.80,945.08 L1077.80,944.57 L1079.80,944.06 L1081.80,943.53 L1083.80,943.01 L1085.80,942.47 L1087.80,941.93 L1089.80,941.38 L1091.80,940.82 L1093.80,940.26 L1095.80,939.69 L1097.80,939.11 L1099.80,938.53 L1101.80,937.93 L1103.80,937.33 L1105.80,936.73 L1107.80,936.11 L1109.80,935.49 L1111.80,934.86 L1113.80,934.22 L1115.80,933.57 L1117.80,932.91 L1119.80,932.25 L1121.80,931.58 L1123.80,930.90 L1125.80,930.21 L1127.80,929.51 L1129.80,928.81 L1131.80,928.09 L1133.80,927.37 L1135.80,926.63 L1137.80,925.89 L1139.80,925.14 L1141.80,924.38 L1143.80,923.61 L1145.80,922.83 L1147.80,922.04 L1149.80,921.24 L1151.80,920.43 L1153.80,919.61 L1155.80,918.78 L1157.80,917.94 L1159.80,917.09 L1161.80,916.22 L1163.80,915.35 L1165.80,914.46 L1167.80,913.57 L1169.80,912.66 L1171.80,911.74 L1173.80,910.81 L1175.80,909.86 L1177.80,908.91 L1179.80,907.94 L1181.80,906.95 L1183.80,905.96 L1185.80,904.95 L1187.80,903.93 L1189.80,902.89 L1191.80,901.84 L1193.80,900.77 L1195.80,899.69 L1197.80,898.60 L1199.80,897.49 L1201.80,896.36 L1203.80,895.22 L1205.80,894.07 L1207.80,892.89 L1209.80,891.70 L1211.80,890.49 L1213.80,889.27 L1215.80,888.02 L1217.80,886.76 L1219.80,885.48 L1221.80,884.17 L1223.80,882.85 L1225.80,881.51 L1227.80,880.15 L1229.80,878.77 L1231.80,877.36 L1233.80,875.93 L1235.80,874.48 L1237.80,873.01 L1239.80,871.51 L1241.80,869.99 L1243.80,868.44 L1245.80,866.86 L1247.80,865.26 L1249.80,863.63 L1251.80,861.97 L1253.80,860.28 L1255.80,858.56 L1257.80,856.81 L1259.80,855.03 L1261.80,853.21 L1263.80,851.36 L1265.80,849.48 L1267.80,847.55 L1269.80,845.59 L1271.80,843.59 L1273.80,841.55 L1275.80,839.47 L1277.80,837.34 L1279.80,835.17 L1281.80,832.95 L1283.80,830.68 L1285.80,828.36 L1287.80,825.99 L1289.80,823.56 L1291.80,821.07 L1293.80,818.53 L1295.80,815.92 L1297.80,813.25 L1299.80,810.50 L1301.80,807.69 L1303.80,804.80 L1305.80,801.82 L1307.80,798.77 L1309.80,795.63 L1311.80,792.39 L1313.80,789.06 L1315.80,785.62 L1317.80,782.07 L1319.80,778.41 L1321.80,774.62 L1323.80,770.70 L1325.80,766.64 L1327.80,762.43 L1329.80,758.05 L1331.80,753.50 L1333.80,748.76 L1335.80,743.82 L1337.80,738.66 L1339.80,733.25 L1341.80,727.59 L1343.50,722.54 L1347.06,711.22 L1350.30,699.87 L1353.26,688.49 L1355.95,677.08 L1358.40,665.65 L1360.63,654.19 L1362.67,642.72 L1364.52,631.24 L1366.21,619.74 L1367.75,608.23 L1369.15,596.72 L1370.43,585.20 L1371.59,573.68 L1372.65,562.17 L1373.62,550.66 L1374.49,539.16 L1375.30,527.68 L1376.03,516.22 L1376.69,504.79 L1377.30,493.39 L1377.85,482.04 L1378.35,470.74 L1378.81,459.51 L1379.23,448.35 L1379.61,437.29 L1379.95,426.35 L1380.27,415.53 L1380.56,404.88 L1380.82,394.42 L1381.06,384.17 L1381.27,374.16 L1381.47,364.45 L1381.65,355.05 L1381.82,346.02 L1381.97,337.38 L1382.10,329.19 L1382.23,321.47 L1382.34,314.25 L1382.44,307.55 L1382.54,301.40 L1382.62,295.78 L1382.70,290.70 L1382.77,286.15 L1382.84,282.11 L1382.90,278.55 L1382.95,275.43 L1383.00,272.72 L1383.04,270.37 L1383.08,268.36 L1383.12,266.64 L1383.15,265.17 L1383.19,263.93 L1383.21,262.88 L1383.24,261.99 L1383.26,261.25 L1383.28,260.63 L1383.30,260.10 L1383.32,259.67 L1383.34,259.30 L1383.35,259.00 L1383.36,258.75 L1383.38,258.53 L1383.39,258.36 L1383.40,258.21 L1383.41,258.09 L1383.41,257.99 L1383.42,257.91 L1383.43,257.84 L1383.44,257.78 L1383.44,257.73 L1383.45,257.69 L1383.45,257.66 L1383.46,257.63 L1383.46,257.61 L1383.46,257.59 L1383.47,257.57 L1383.47,257.56 L1383.47,257.55 L1383.47,257.54 L1383.48,257.53 L1383.48,257.53 L1383.48,257.52 L1383.48,257.52 L1383.48,257.52 L1383.49,257.51 L1383.49,257.51 L1383.49,257.51 L1383.49,257.51 L1383.49,257.51 L1383.50,257.50"/>
<path stroke="#ff0000" stroke-dasharray="0.00 35.28 20.28 35.64 20.24 35.56 20.20 35.47 20.17 35.48 20.14 35.36 20.20 35.71 20.30 35.71 20.35 35.87 20.17 35.06 19.84 34.67 19.57 34.17 19.90 35.86 20.41 35.91 20.63 36.85 20.60 35.70 20.39 36.01 20.39 531.50" d="M1383.50,257.50 L1383.51,257.51 L1383.51,257.51 L1383.51,257.51 L1383.51,257.51 L1383.51,257.52 L1383.52,257.52 L1383.52,257.52 L1383.52,257.53 L1383.52,257.53 L1383.52,257.54 L1383.53,257.55 L1383.53,257.56 L1383.53,257.57 L1383.53,257.58 L1383.54,257.60 L1383.54,257.62 L1383.54,257.64 L1383.55,257.67 L1383.55,257.70 L1383.56,257.74 L1383.56,257.79 L1383.57,257.85 L1383.58,257.92 L1383.59,258.01 L1383.59,258.11 L1383.60,258.23 L1383.61,258.38 L1383.62,258.56 L1383.64,258.77 L1383.65,259.03 L1383.66,259.34 L1383.68,259.70 L1383.70,260.15 L1383.72,260.67 L1383.74,261.30 L1383.76,262.05 L1383.79,262.94 L1383.81,264.00 L1383.85,265.24 L1383.88,266.72 L1383.92,268.45 L1383.96,270.47 L1384.00,272.82 L1384.05,275.54 L1384.10,278.68 L1384.16,282.25 L1384.23,286.31 L1384.30,290.87 L1384.38,295.96 L1384.46,301.60 L1384.56,307.77 L1384.66,314.49 L1384.77,321.74 L1384.90,329.48 L1385.03,337.71 L1385.18,346.37 L1385.35,355.44 L1385.53,364.87 L1385.73,374.63 L1385.94,384.68 L1386.18,394.98 L1386.44,405.50 L1386.73,416.21 L1387.05,427.09 L1387.39,438.11 L1387.77,449.25 L1388.19,460.49 L1388.65,471.82 L1389.15,483.22 L1389.70,494.69 L1390.31,506.21 L1390.97,517.79 L1391.70,529.40 L1392.51,541.05 L1393.38,552.73 L1394.35,564.44 L1395.41,576.18 L1396.57,587.94 L1397.85,599.72 L1399.25,611.53 L1400.79,623.36 L1402.48,635.21 L1404.33,647.08 L1406.37,658.98 L1408.60,670.90 L1411.05,682.84 L1413.74,694.82 L1416.70,706.82 L1419.94,718.85 L1423.50,730.92 L1423.80,731.89 L1425.80,738.17 L1427.80,744.18 L1429.80,749.93 L1431.80,755.44 L1433.80,760.74 L1435.80,765.84 L1437.80,770.76 L1439.80,775.51 L1441.80,780.09 L1443.80,784.53 L1445.80,788.83 L1447.80,793.01 L1449.80,797.06 L1451.80,800.99 L1453.80,804.82 L1455.80,808.54 L1457.80,812.17 L1459.80,815.71 L1461.80,819.16 L1463.80,822.53 L1465.80,825.83 L1467.80,829.04 L1469.80,832.19 L1471.80,835.27 L1473.80,838.28 L1475.80,841.23 L1477.80,844.13 L1479.80,846.96 L1481.80,849.75 L1483.80,852.48 L1485.80,855.16 L1487.80,857.79 L1489.80,860.37 L1491.80,862.91 L1493.80,865.41 L1495.80,867.87 L1497.80,870.28 L1499.80,872.66 L1501.80,875.00 L1503.80,877.31 L1505.80,879.58 L1507.80,881.81 L1509.80,884.02 L1511.80,886.19 L1513.80,888.33 L1515.80,890.44 L1517.80,892.52 L1519.80,894.58 L1521.80,896.61 L1523.80,898.61 L1525.80,900.58 L1527.80,902.53 L1529.80,904.46 L1531.80,906.36 L1533.80,908.24 L1535.80,910.10 L1537.80,911.94 L1539.80,913.75 L1541.80,915.54 L1543.80,917.32 L1545.80,919.07 L1547.80,920.81 L1549.80,922.52 L1551.80,924.22 L1553.80,925.90 L1555.80,927.56 L1557.80,929.21 L1559.80,930.84 L1561.80,932.45 L1563.80,934.05 L1565.80,935.63 L1567.80,937.20 L1569.80,938.75 L1571.80,940.28 L1573.80,941.81 L1575.80,943.32 L1577.80,944.81 L1579.80,946.29 L1581.80,947.76 L1583.80,949.22 L1585.80,950.66 L1587.80,952.09 L1589.80,953.51 L1591.80,954.92 L1593.80,956.31 L1595.80,957.70 L1597.80,959.07 L1599.80,960.43 L1601.80,961.78 L1603.80,963.12 L1605.80,964.45 L1607.80,965.77 L1609.80,967.08 L1611.80,968.38 L1613.80,969.67 L1615.80,970.95 L1617.80,972.22 L1619.80,973.48 L1621.80,974.73 L1623.80,975.98 L1625.80,977.21 L1627.80,978.44 L1629.80,979.66 L1631.80,980.87 L1633.80,982.07 L1635.80,983.26 L1637.80,984.45 L1639.80,985.63 L1641.80,986.80 L1643.80,987.96 L1645.80,989.11 L1647.80,990.26 L1649.80,991.40 L1651.80,992.54 L1653.80,993.66 L1655.80,994.78 L1657.80,995.90 L1659.80,997.00 L1661.80,998.10 L1663.80,999.19 L1665.80,1000.28 L1667.80,1001.36 L1669.80,1002.43 L1671.80,1003.50 L1673.80,1004.56 L1675.80,1005.62 L1677.80,1006.67 L1679.80,1007.71 L1681.80,1008.75 L1683.80,1009.78 L1685.80,1010.81 L1687.80,1011.83 L1689.80,1012.85 L1691.80,1013.86 L1693.80,1014.86 L1695.80,1015.87 L1697.80,1016.86 L1699.80,1017.85 L1701.80,1018.83 L1703.80,1019.81 L1705.80,1020.79 L1707.80,1021.76 L1709.80,1022.73 L1711.80,1023.69 L1713.80,1024.64 L1715.80,1025.59 L1717.80,1026.54 L1719.80,1027.48 L1721.80,1028.42 L1723.80,1029.35 L1725.80,1030.28 L1727.80,1031.21 L1729.80,1032.13 L1731.80,1033.04 L1733.80,1033.96 L1735.80,1034.86 L1737.80,1035.77 L1739.80,1036.67 L1741.80,1037.57 L1743.80,1038.46 L1745.80,1039.35 L1747.80,1040.23 L1749.80,1041.11 L1751.80,1041.99 L1753.80,1042.86 L1755.80,1043.73 L1757.80,1044.60 L1759.80,1045.46 L1761.80,1046.32 L1763.80,1047.17 L1765.80,1048.03 L1767.80,1048.87 L1769.80,1049.72 L1771.80,1050.56 L1773.80,1051.40 L1775.80,1052.23 L1777.80,1053.07 L1779.80,1053.89 L1781.80,1054.72 L1783.80,1055.54"/>
<path stroke="#0000ff" stroke-dasharray="0.00 14.08 36.00 29.80 0.40 29.69 36.20 30.25 0.40 30.13 36.86 30.91 0.40 30.13 36.64 30.56 0.41 30.25 36.49 30.16 0.40 30.16 36.55 30.35 0.40 29.88 36.08 29.86 0.40 29.89 36.06 29.80 0.40 29.80 36.01 29.80 0.40 29.79 35.99 29.79 0.40 29.48 9.91 500.00" d="M295.80,1169.44 L297.80,1167.89 L299.80,1166.34 L301.80,1164.78 L303.80,1163.22 L305.80,1161.65 L307.80,1160.08 L309.80,1158.50 L311.80,1156.92 L313.80,1155.34 L315.80,1153.75 L317.80,1152.15 L319.80,1150.55 L321.80,1148.94 L323.80,1147.33 L325.80,1145.71 L327.80,1144.09 L329.80,1142.46 L331.80,1140.83 L333.80,1139.19 L335.80,1137.54 L337.80,1135.89 L339.80,1134.23 L341.80,1132.57 L343.80,1130.90 L345.80,1129.22 L347.80,1127.54 L349.80,1125.85 L351.80,1124.15 L353.80,1122.45 L355.80,1120.74 L357.80,1119.02 L359.80,1117.29 L361.80,1115.56 L363.80,1113.82 L365.80,1112.07 L367.80,1110.32 L369.80,1108.56 L371.80,1106.79 L373.80,1105.01 L375.80,1103.22 L377.80,1101.42 L379.80,1099.62 L381.80,1097.80 L383.80,1095.98 L385.80,1094.15 L387.80,1092.31 L389.80,1090.46 L391.80,1088.60 L393.80,1086.73 L395.80,1084.85 L397.80,1082.96 L399.80,1081.06 L401.80,1079.15 L403.80,1077.23 L405.80,1075.30 L407.80,1073.35 L409.80,1071.40 L411.80,1069.43 L413.80,1067.45 L415.80,1065.46 L417.80,1063.45 L419.80,1061.44 L421.80,1059.41 L423.80,1057.36 L425.80,1055.31 L427.80,1053.24 L429.80,1051.15 L431.80,1049.05 L433.80,1046.94 L435.80,1044.81 L437.80,1042.66 L439.80,1040.50 L441.80,1038.32 L443.80,1036.13 L445.80,1033.92 L447.80,1031.69 L449.80,1029.44 L451.80,1027.17 L453.80,1024.89 L455.80,1022.58 L457.80,1020.26 L459.80,1017.92 L461.80,1015.55 L463.80,1013.16 L465.80,1010.75 L467.80,1008.32 L469.80,1005.87 L471.80,1003.39 L473.80,1000.88 L475.80,998.35 L477.80,995.79 L479.80,993.21 L481.80,990.60 L483.80,987.96 L485.80,985.29 L487.80,982.59 L489.80,979.85 L491.80,977.09 L493.80,974.29 L495.80,971.45 L497.80,968.58 L499.80,965.68 L501.80,962.73 L503.80,959.74 L505.80,956.71 L507.80,953.64 L509.80,950.53 L511.80,947.36 L513.80,944.15 L515.80,940.89 L517.80,937.57 L519.80,934.20 L521.80,930.77 L523.80,927.29 L525.80,923.73 L527.80,920.12 L529.80,916.43 L531.80,912.68 L533.80,908.85 L535.80,904.94 L537.80,900.94 L539.80,896.86 L541.80,892.68 L543.80,888.41 L545.80,884.03 L547.80,879.54 L549.80,874.94 L551.80,870.21 L553.80,865.34 L555.80,860.34 L557.80,855.18 L559.80,849.86 L561.80,844.37 L563.80,838.68 L565.80,832.79 L567.80,826.68 L569.80,820.32 L571.80,813.70 L573.30,808.55 L576.86,795.58 L580.10,782.73 L583.06,769.98 L585.75,757.32 L588.20,744.75 L590.43,732.26 L592.47,719.84 L594.32,707.49 L596.01,695.20 L597.55,682.96 L598.95,670.78 L600.23,658.65 L601.39,646.56 L602.45,634.52 L603.42,622.52 L604.29,610.56 L605.10,598.64 L605.83,586.77 L606.49,574.93 L607.10,563.14 L607.65,551.39 L608.15,539.69 L608.61,528.04 L609.03,516.46 L609.41,504.94 L609.75,493.50 L610.07,482.14 L610.36,470.89 L610.62,459.75 L610.86,448.74 L611.07,437.90 L611.27,427.23 L611.45,416.77 L611.62,406.55 L611.77,396.61 L611.90,386.98 L612.03,377.69 L612.14,368.78 L612.24,360.31 L612.34,352.30 L612.42,344.77 L612.50,337.76 L612.57,331.28 L612.64,325.35 L612.70,319.97 L612.75,315.12 L612.80,310.80 L612.84,306.97 L612.88,303.60 L612.92,300.66 L612.95,298.12 L612.99,295.92 L613.01,294.04 L613.04,292.43 L613.06,291.07 L613.08,289.91 L613.10,288.93 L613.12,288.11 L613.14,287.42 L613.15,286.84 L613.16,286.35 L613.18,285.95 L613.19,285.61 L613.20,285.32 L613.21,285.08 L613.21,284.89 L613.22,284.72 L613.23,284.59 L613.24,284.47 L613.24,284.38 L613.25,284.30 L613.25,284.23 L613.26,284.18 L613.26,284.13 L613.26,284.09 L613.27,284.06 L613.27,284.03 L613.27,284.01 L613.27,283.99 L613.28,283.98 L613.28,283.97 L613.28,283.96 L613.28,283.95 L613.28,283.94 L613.29,283.93 L613.29,283.93 L613.29,283.92 L613.29,283.92 L613.29,283.92 L613.30,283.90"/>
<path stroke="#0000ff" stroke-dasharray="0.00 28.72 0.40 29.88 36.10 29.88 0.40 29.88 36.10 29.88 0.40 29.88 36.22 30.08 0.40 29.88 36.04 29.79 0.40 29.76 35.65 29.26 0.39 29.16 34.92 28.67 0.38 31.12 37.57 31.07 0.42 31.87 37.46 30.09 0.40 30.07 36.28 29.99 0.40 29.75 35.73 29.39 0.39 29.17 35.19 29.09 0.39 29.57 36.03 30.06 0.41 30.45 36.86 30.58 0.40 30.00 36.24 30.00 0.40 30.13 36.58 30.43 0.41 30.46 36.79 30.44 0.40 29.81 36.01 29.81 0.40 29.80 36.00 29.80 0.40 29.80 36.00 29.80 0.40 527.30" d="M613.30,283.90 L613.31,283.91 L613.31,283.91 L613.31,283.91 L613.31,283.92 L613.31,283.92 L613.32,283.93 L613.32,283.93 L613.32,283.94 L613.32,283.95 L613.32,283.96 L613.33,283.98 L613.33,283.99 L613.33,284.01 L613.33,284.04 L613.34,284.07 L613.34,284.10 L613.34,284.15 L613.35,284.20 L613.35,284.26 L613.36,284.33 L613.36,284.43 L613.37,284.54 L613.38,284.67 L613.39,284.83 L613.39,285.02 L613.40,285.25 L613.41,285.53 L613.42,285.86 L613.44,286.26 L613.45,286.73 L613.46,287.30 L613.48,287.98 L613.50,288.79 L613.52,289.76 L613.54,290.90 L613.56,292.25 L613.59,293.83 L613.61,295.70 L613.65,297.87 L613.68,300.39 L613.72,303.31 L613.76,306.64 L613.80,310.44 L613.85,314.73 L613.90,319.54 L613.96,324.88 L614.03,330.76 L614.10,337.19 L614.18,344.15 L614.26,351.61 L614.36,359.56 L614.46,367.96 L614.57,376.79 L614.70,385.98 L614.83,395.52 L614.98,405.36 L615.15,415.46 L615.33,425.79 L615.53,436.32 L615.74,447.01 L615.98,457.84 L616.24,468.80 L616.53,479.84 L616.85,490.98 L617.19,502.18 L617.57,513.42 L617.99,524.71 L618.45,536.03 L618.95,547.37 L619.50,558.73 L620.11,570.10 L620.77,581.46 L621.50,592.82 L622.31,604.17 L623.18,615.50 L624.15,626.82 L625.21,638.11 L626.37,649.37 L627.65,660.59 L629.05,671.78 L630.59,682.92 L632.28,694.01 L634.13,705.04 L636.17,716.02 L638.40,726.92 L640.85,737.75 L643.54,748.49 L646.50,759.14 L649.74,769.69 L653.30,780.13 L653.80,781.51 L655.80,786.85 L657.80,791.91 L659.80,796.72 L661.80,801.29 L663.80,805.66 L665.80,809.82 L667.80,813.80 L669.80,817.61 L671.80,821.27 L673.80,824.77 L675.80,828.14 L677.80,831.38 L679.80,834.50 L681.80,837.50 L683.80,840.40 L685.80,843.20 L687.80,845.90 L689.80,848.51 L691.80,851.03 L693.80,853.47 L695.80,855.83 L697.80,858.12 L699.80,860.34 L701.80,862.49 L703.80,864.57 L705.80,866.59 L707.80,868.56 L709.80,870.47 L711.80,872.32 L713.80,874.12 L715.80,875.87 L717.80,877.57 L719.80,879.23 L721.80,880.84 L723.80,882.40 L725.80,883.93 L727.80,885.41 L729.80,886.86 L731.80,888.27 L733.80,889.64 L735.80,890.98 L737.80,892.28 L739.80,893.55 L741.80,894.79 L743.80,896.00 L745.80,897.17 L747.80,898.32 L749.80,899.44 L751.80,900.53 L753.80,901.59 L755.80,902.63 L757.80,903.64 L759.80,904.63 L761.80,905.59 L763.80,906.53 L765.80,907.45 L767.80,908.34 L769.80,909.22 L771.80,910.07 L773.80,910.90 L775.80,911.71 L777.80,912.50 L779.80,913.27 L781.80,914.02 L783.80,914.75 L785.80,915.47 L787.80,916.16 L789.80,916.84 L791.80,917.51 L793.80,918.15 L795.80,918.78 L797.80,919.39 L799.80,919.99 L801.80,920.57 L803.80,921.14 L805.80,921.69 L807.80,922.23 L809.80,922.75 L811.80,923.26 L813.80,923.75 L815.80,924.23 L817.80,924.70 L819.80,925.16 L821.80,925.60 L823.80,926.03 L825.80,926.44 L827.80,926.84 L829.80,927.24 L831.80,927.62 L833.80,927.98 L835.80,928.34 L837.80,928.68 L839.80,929.02 L841.80,929.34 L843.80,929.65 L845.80,929.95 L847.80,930.24 L849.80,930.52 L851.80,930.78 L853.80,931.04 L855.80,931.29 L857.80,931.53 L859.80,931.76 L861.80,931.97 L863.80,932.18 L865.80,932.38 L867.80,932.57 L869.80,932.75 L871.80,932.92 L873.80,933.08 L875.80,933.23 L877.80,933.37 L879.80,933.51 L881.80,933.63 L883.80,933.75 L885.80,933.86 L887.80,933.95 L889.80,934.04 L891.80,934.13 L893.80,934.20 L895.80,934.26 L897.80,934.32 L899.80,934.37 L901.80,934.41 L903.80,934.44 L905.80,934.47 L907.80,934.48 L909.80,934.49 L911.80,934.49 L913.80,934.48 L915.80,934.47 L917.80,934.44 L919.80,934.41 L921.80,934.37 L923.80,934.33 L925.80,934.27 L927.80,934.21 L929.80,934.14 L931.80,934.07 L933.80,933.98 L935.80,933.89 L937.80,933.79 L939.80,933.68 L941.80,933.57 L943.80,933.45 L945.80,933.32 L947.80,933.18 L949.80,933.04 L951.80,932.89 L953.80,932.73 L955.80,932.57 L957.80,932.39 L959.80,932.21 L961.80,932.03 L963.80,931.83 L965.80,931.63 L967.80,931.42 L969.80,931.21 L971.80,930.98 L973.80,930.75 L975.80,930.52 L977.80,930.27 L979.80,930.02 L981.80,929.76 L983.80,929.49 L985.80,929.22 L987.80,928.94 L989.80,928.65 L991.80,928.35 L993.80,928.05 L995.80,927.74 L997.80,927.42 L999.80,927.09 L1001.80,926.76 L1003.80,926.42 L1005.80,926.07 L1007.80,925.71 L1009.80,925.35 L1011.80,924.98 L1013.80,924.60 L1015.80,924.22 L1017.80,923.82 L1019.80,923.42 L1021.80,923.01 L1023.80,922.59 L1025.80,922.17 L1027.80,921.74 L1029.80,921.29 L1031.80,920.85 L1033.80,920.39 L1035.80,919.92 L1037.80,919.45 L1039.80,918.97 L1041.80,918.48 L1043.80,917.98 L1045.80,917.47 L1047.80,916.96 L1049.80,916.43 L1051.80,915.90 L1053.80,915.36 L1055.80,914.81 L1057.80,914.25 L1059.80,913.68 L1061.80,913.11 L1063.80,912.52 L1065.80,911.93 L1067.80,911.32 L1069.80,910.71 L1071.80,910.09 L1073.80,909.45 L1075.80,908.81 L1077.80,908.16 L1079.80,907.50 L1081.80,906.82 L1083.80,906.14 L1085.80,905.45 L1087.80,904.74 L1089.80,904.03 L1091.80,903.31 L1093.80,902.57 L1095.80,901.82 L1097.80,901.07 L1099.80,900.30 L1101.80,899.52 L1103.80,898.73 L1105.80,897.92 L1107.80,897.11 L1109.80,896.28 L1111.80,895.44 L1113.80,894.59 L1115.80,893.72 L1117.80,892.84 L1119.80,891.95 L1121.80,891.05 L1123.80,890.13 L1125.80,889.20 L1127.80,888.25 L1129.80,887.29 L1131.80,886.32 L1133.80,885.33 L1135.80,884.32 L1137.80,883.30 L1139.80,882.27 L1141.80,881.22 L1143.80,880.15 L1145.80,879.07 L1147.80,877.97 L1149.80,876.85 L1151.80,875.71 L1153.80,874.56 L1155.80,873.39 L1157.80,872.20 L1159.80,870.99 L1161.80,869.76 L1163.80,868.51 L1165.80,867.24 L1167.80,865.95 L1169.80,864.63 L1171.80,863.30 L1173.80,861.94 L1175.80,860.56 L1177.80,859.16 L1179.80,857.73 L1181.80,856.28 L1183.80,854.80 L1185.80,853.30 L1187.80,851.77 L1189.80,850.21 L1191.80,848.62 L1193.80,847.00 L1195.80,845.35 L1197.80,843.67 L1199.80,841.96 L1201.80,840.22 L1203.80,838.44 L1205.80,836.63 L1207.80,834.78 L1209.80,832.89 L1211.80,830.97 L1213.80,829.00 L1215.80,826.99 L1217.80,824.94 L1219.80,822.84 L1221.80,820.70 L1223.80,818.51 L1225.80,816.27 L1227.80,813.97 L1229.80,811.63 L1231.80,809.22 L1233.80,806.76 L1235.80,804.23 L1237.80,801.64 L1239.80,798.99 L1241.80,796.26 L1243.80,793.46 L1245.80,790.58 L1247.80,787.62 L1249.80,784.58 L1251.80,781.44 L1253.80,778.21 L1255.80,774.88 L1257.80,771.44 L1259.80,767.89 L1261.80,764.22 L1263.80,760.42 L1265.80,756.48 L1267.80,752.40 L1269.80,748.16 L1271.80,743.76 L1273.80,739.18 L1275.80,734.40 L1277.80,729.41 L1279.80,724.19 L1281.80,718.72 L1283.80,712.97 L1284.70,710.29 L1288.26,699.04 L1291.50,687.74 L1294.46,676.40 L1297.15,665.03 L1299.60,653.63 L1301.83,642.20 L1303.87,630.75 L1305.72,619.27 L1307.41,607.78 L1308.95,596.26 L1310.35,584.73 L1311.63,573.19 L1312.79,561.63 L1313.85,550.07 L1314.82,538.49 L1315.69,526.90 L1316.50,515.31 L1317.23,503.71 L1317.89,492.11 L1318.50,480.51 L1319.05,468.90 L1319.55,457.30 L1320.01,445.70 L1320.43,434.11 L1320.81,422.53 L1321.15,410.95 L1321.47,399.40 L1321.76,387.86 L1322.02,376.35 L1322.26,364.87 L1322.47,353.42 L1322.67,342.02 L1322.85,330.68 L1323.02,319.40 L1323.17,308.20 L1323.30,297.09 L1323.43,286.10 L1323.54,275.23 L1323.64,264.52 L1323.74,254.00 L1323.82,243.68 L1323.90,233.60 L1323.97,223.79 L1324.04,214.31 L1324.10,205.19 L1324.15,196.44 L1324.20,188.14 L1324.24,180.29 L1324.28,172.95 L1324.32,166.12 L1324.35,159.83 L1324.39,154.09 L1324.41,148.88 L1324.44,144.20 L1324.46,140.04 L1324.48,136.38 L1324.50,133.15 L1324.52,130.34 L1324.54,127.91 L1324.55,125.83 L1324.56,124.04 L1324.58,122.51 L1324.59,121.22 L1324.60,120.13 L1324.61,119.20 L1324.61,118.43 L1324.62,117.78 L1324.63,117.23 L1324.64,116.77 L1324.64,116.39 L1324.65,116.07 L1324.65,115.81 L1324.66,115.59 L1324.66,115.40 L1324.66,115.25 L1324.67,115.12 L1324.67,115.02 L1324.67,114.93 L1324.67,114.86 L1324.68,114.79 L1324.68,114.75 L1324.68,114.70 L1324.68,114.67 L1324.68,114.64 L1324.69,114.62 L1324.69,114.60 L1324.69,114.58 L1324.69,114.57 L1324.69,114.55 L1324.70,114.50"/>
<path stroke="#0000ff" stroke-dasharray="33.00 29.87 0.40 29.84 36.08 29.88 0.40 29.84 36.07 29.87 0.40 29.83 35.99 29.75 0.40 29.77 35.97 29.77 0.40 29.78 35.33 28.71 0.39 29.50 35.54 29.32 0.39 30.37 36.00 29.19 0.39 29.10 35.50 29.67 0.40 29.80 36.32 30.36 0.40 30.15 36.68 30.58 0.41 30.32 36.48 30.06 0.40 29.80 27.79 500.00" d="M1324.70,114.50 L1324.71,114.56 L1324.71,114.57 L1324.71,114.58 L1324.71,114.60 L1324.71,114.62 L1324.72,114.64 L1324.72,114.67 L1324.72,114.71 L1324.72,114.75 L1324.72,114.80 L1324.73,114.86 L1324.73,114.94 L1324.73,115.02 L1324.73,115.13 L1324.74,115.26 L1324.74,115.41 L1324.74,115.60 L1324.75,115.82 L1324.75,116.09 L1324.76,116.40 L1324.76,116.79 L1324.77,117.25 L1324.78,117.79 L1324.79,118.45 L1324.79,119.22 L1324.80,120.15 L1324.81,121.25 L1324.82,122.54 L1324.84,124.07 L1324.85,125.86 L1324.86,127.95 L1324.88,130.38 L1324.90,133.20 L1324.92,136.43 L1324.94,140.10 L1324.96,144.27 L1324.99,148.95 L1325.01,154.16 L1325.05,159.91 L1325.08,166.21 L1325.12,173.05 L1325.16,180.40 L1325.20,188.26 L1325.25,196.57 L1325.30,205.34 L1325.36,214.47 L1325.43,223.97 L1325.50,233.79 L1325.58,243.89 L1325.66,254.23 L1325.76,264.78 L1325.86,275.51 L1325.97,286.41 L1326.10,297.43 L1326.23,308.57 L1326.38,319.80 L1326.55,331.13 L1326.73,342.52 L1326.93,353.96 L1327.14,365.46 L1327.38,377.00 L1327.64,388.58 L1327.93,400.18 L1328.25,411.82 L1328.59,423.47 L1328.97,435.15 L1329.39,446.84 L1329.85,458.55 L1330.35,470.27 L1330.90,482.01 L1331.51,493.76 L1332.17,505.53 L1332.90,517.30 L1333.71,529.09 L1334.58,540.89 L1335.55,552.70 L1336.61,564.53 L1337.77,576.37 L1339.05,588.22 L1340.45,600.09 L1341.99,611.98 L1343.68,623.89 L1345.53,635.81 L1347.57,647.76 L1349.80,659.73 L1352.25,671.73 L1354.94,683.76 L1357.90,695.81 L1361.14,707.90 L1364.70,720.03 L1365.80,723.56 L1367.80,729.77 L1369.80,735.70 L1371.80,741.38 L1373.80,746.84 L1375.80,752.09 L1377.80,757.14 L1379.80,762.02 L1381.80,766.73 L1383.80,771.29 L1385.80,775.70 L1387.80,779.98 L1389.80,784.13 L1391.80,788.16 L1393.80,792.08 L1395.80,795.89 L1397.80,799.60 L1399.80,803.22 L1401.80,806.75 L1403.80,810.20 L1405.80,813.56 L1407.80,816.85 L1409.80,820.06 L1411.80,823.20 L1413.80,826.28 L1415.80,829.30 L1417.80,832.25 L1419.80,835.14 L1421.80,837.98 L1423.80,840.77 L1425.80,843.50 L1427.80,846.19 L1429.80,848.82 L1431.80,851.41 L1433.80,853.96 L1435.80,856.47 L1437.80,858.93 L1439.80,861.35 L1441.80,863.74 L1443.80,866.09 L1445.80,868.40 L1447.80,870.68 L1449.80,872.92 L1451.80,875.14 L1453.80,877.32 L1455.80,879.47 L1457.80,881.59 L1459.80,883.68 L1461.80,885.75 L1463.80,887.78 L1465.80,889.79 L1467.80,891.78 L1469.80,893.74 L1471.80,895.68 L1473.80,897.59 L1475.80,899.48 L1477.80,901.35 L1479.80,903.20 L1481.80,905.02 L1483.80,906.83 L1485.80,908.61 L1487.80,910.38 L1489.80,912.12 L1491.80,913.85 L1493.80,915.56 L1495.80,917.25 L1497.80,918.93 L1499.80,920.58 L1501.80,922.22 L1503.80,923.85 L1505.80,925.46 L1507.80,927.05 L1509.80,928.63 L1511.80,930.19 L1513.80,931.74 L1515.80,933.27 L1517.80,934.79 L1519.80,936.30 L1521.80,937.79 L1523.80,939.27 L1525.80,940.73 L1527.80,942.19 L1529.80,943.63 L1531.80,945.06 L1533.80,946.48 L1535.80,947.88 L1537.80,949.28 L1539.80,950.66 L1541.80,952.03 L1543.80,953.39 L1545.80,954.74 L1547.80,956.08 L1549.80,957.41 L1551.80,958.73 L1553.80,960.04 L1555.80,961.34 L1557.80,962.63 L1559.80,963.92 L1561.80,965.19 L1563.80,966.45 L1565.80,967.70 L1567.80,968.95 L1569.80,970.18 L1571.80,971.41 L1573.80,972.63 L1575.80,973.84 L1577.80,975.04 L1579.80,976.24 L1581.80,977.43 L1583.80,978.60 L1585.80,979.78 L1587.80,980.94 L1589.80,982.10 L1591.80,983.25 L1593.80,984.39 L1595.80,985.52 L1597.80,986.65 L1599.80,987.77 L1601.80,988.89 L1603.80,989.99 L1605.80,991.09 L1607.80,992.19 L1609.80,993.28 L1611.80,994.36 L1613.80,995.43 L1615.80,996.50 L1617.80,997.57 L1619.80,998.62 L1621.80,999.67 L1623.80,1000.72 L1625.80,1001.76 L1627.80,1002.79 L1629.80,1003.82 L1631.80,1004.84 L1633.80,1005.86 L1635.80,1006.87 L1637.80,1007.88 L1639.80,1008.88 L1641.80,1009.88 L1643.80,1010.87 L1645.80,1011.85 L1647.80,1012.83 L1649.80,1013.81 L1651.80,1014.78 L1653.80,1015.75 L1655.80,1016.71 L1657.80,1017.67 L1659.80,1018.62 L1661.80,1019.57 L1663.80,1020.51 L1665.80,1021.45 L1667.80,1022.38 L1669.80,1023.31 L1671.80,1024.24 L1673.80,1025.16 L1675.80,1026.07 L1677.80,1026.99 L1679.80,1027.89 L1681.80,1028.80 L1683.80,1029.70 L1685.80,1030.59 L1687.80,1031.49 L1689.80,1032.37 L1691.80,1033.26 L1693.80,1034.14 L1695.80,1035.02 L1697.80,1035.89 L1699.80,1036.76 L1701.80,1037.62 L1703.80,1038.48 L1705.80,1039.34 L1707.80,1040.20 L1709.80,1041.05 L1711.80,1041.90 L1713.80,1042.74 L1715.80,1043.58 L1717.80,1044.42 L1719.80,1045.25 L1721.80,1046.08 L1723.80,1046.91 L1725.80,1047.73 L1727.80,1048.55 L1729.80,1049.37 L1731.80,1050.19 L1733.80,1051.00 L1735.80,1051.81 L1737.80,1052.61 L1739.80,1053.41 L1741.80,1054.21 L1743.80,1055.01 L1745.80,1055.80 L1747.80,1056.59 L1749.80,1057.38 L1751.80,1058.16 L1753.80,1058.94 L1755.80,1059.72 L1757.80,1060.50 L1759.80,1061.27 L1761.80,1062.04 L1763.80,1062.81 L1765.80,1063.57 L1767.80,1064.34 L1769.80,1065.09 L1771.80,1065.85 L1773.80,1066.61 L1775.80,1067.36 L1777.80,1068.11 L1779.80,1068.85 L1781.80,1069.60 L1783.80,1070.34"/>
<line x1="300.73" y1="1003.2" x2="1790" y2="1003.2" stroke="#e00cf0" stroke-width="12.4" stroke-dasharray="0.01 23.773"/>
</g>
<g stroke="#000" stroke-width="3.3" fill="none">
<rect x="310.80" y="62.40" width="1459.60" height="1085.10"/>
<line x1="310.80" y1="1147.50" x2="333.80" y2="1147.50"/><line x1="310.80" y1="785.80" x2="333.80" y2="785.80"/><line x1="310.80" y1="424.10" x2="333.80" y2="424.10"/><line x1="310.80" y1="62.40" x2="333.80" y2="62.40"/><line x1="310.80" y1="966.65" x2="322.80" y2="966.65"/><line x1="310.80" y1="604.95" x2="322.80" y2="604.95"/><line x1="310.80" y1="243.25" x2="322.80" y2="243.25"/><line x1="310.80" y1="1147.50" x2="310.80" y2="1124.50"/><line x1="797.33" y1="1147.50" x2="797.33" y2="1124.50"/><line x1="1283.87" y1="1147.50" x2="1283.87" y2="1124.50"/><line x1="1770.40" y1="1147.50" x2="1770.40" y2="1124.50"/><line x1="554.07" y1="1147.50" x2="554.07" y2="1135.50"/><line x1="1040.60" y1="1147.50" x2="1040.60" y2="1135.50"/><line x1="1527.13" y1="1147.50" x2="1527.13" y2="1135.50"/>
</g>
<g font-size="92"><text transform="matrix(0.9755,0,0,1.0092,7.26,-10.08)" x="288" y="1172.5" text-anchor="end">10</text><text transform="matrix(0.9702,0,0,1.0177,5.71,-12.66)" x="288" y="810.8" text-anchor="end">35</text><text transform="matrix(0.9976,0,0,1.0007,1.20,0.44)" x="288" y="449.1" text-anchor="end">60</text><text transform="matrix(0.9438,0,0,1.0164,12.24,-1.18)" x="288" y="87.4" text-anchor="end">85</text><text transform="matrix(0.9405,0,0,1.0131,15.95,-17.04)" x="310.8" y="1242" text-anchor="middle">1.31</text><text transform="matrix(0.9597,0,0,1.0495,30.95,-61.30)" x="797.3" y="1242" text-anchor="middle">1.45</text><text transform="matrix(0.9835,0,0,1.0216,21.95,-26.42)" x="1283.9" y="1242" text-anchor="middle">1.59</text><text transform="matrix(0.9565,0,0,1.0216,75.35,-26.42)" x="1770.4" y="1242" text-anchor="middle">1.73</text></g>
<text font-size="93" x="1041.3" y="1387.8" text-anchor="middle">Wavelength (μm)</text>
<text font-size="93" transform="translate(93.4,605.5) rotate(-90)" text-anchor="middle">Extinction Ratio (dB)</text>
<g stroke-width="12.8" stroke-linecap="round" fill="none">
<line x1="725" y1="115.4" x2="849.6" y2="115.4" stroke="#000"/>
<line x1="725" y1="224" x2="849.6" y2="224" stroke="#ff0000" stroke-dasharray="20.2 35.8"/>
<line x1="725" y1="333.2" x2="849.6" y2="333.2" stroke="#0000ff" stroke-dasharray="37.9 28.8 0.5 28.8"/>
</g>
<g font-size="71.5">
<text x="864" y="134.2">Final <tspan font-style="italic">L</tspan><tspan font-size="42" dy="24.5">S</tspan><tspan dy="-24.5">-1%</tspan></text>
<text x="864" y="242.7">Final <tspan font-style="italic">L</tspan><tspan font-size="42" dx="3" dy="24.5">S</tspan></text>
<text x="864" y="352">Final <tspan font-style="italic">L</tspan><tspan font-size="42" dy="24.5">S</tspan><tspan dy="-24.5">+1%</tspan></text>
</g>
</g>
</svg>
</body></html>
